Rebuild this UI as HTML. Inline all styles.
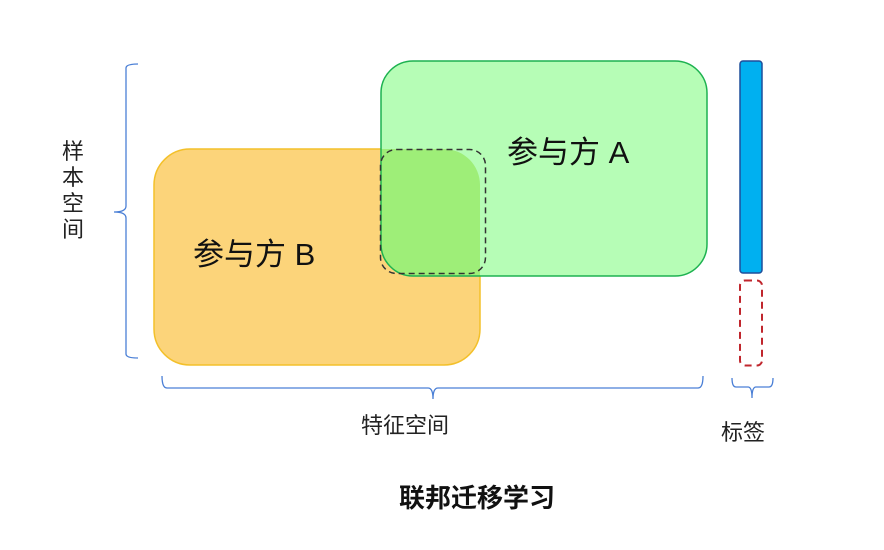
<!DOCTYPE html>
<html><head><meta charset="utf-8"><style>
html,body{margin:0;padding:0;background:#fff;width:884px;height:550px;overflow:hidden}
text{font-family:"Liberation Sans","Noto Sans CJK SC",sans-serif}
</style></head><body>
<svg width="884" height="550" viewBox="0 0 884 550" xmlns="http://www.w3.org/2000/svg">
<defs>
<clipPath id="g"><rect x="381" y="61" width="326" height="215" rx="32"/></clipPath>
</defs>
<rect x="154" y="149" width="326" height="216" rx="36" fill="#fcd47a" stroke="#f3c02a" stroke-width="1.5"/>
<rect x="381" y="61" width="326" height="215" rx="32" fill="#b6fdb6"/>
<rect x="154" y="149" width="326" height="216" rx="36" fill="#9eee78" clip-path="url(#g)"/>
<rect x="381" y="61" width="326" height="215" rx="32" fill="none" stroke="#1db250" stroke-width="1.5"/>
<rect x="380.5" y="149.5" width="105" height="124" rx="16" fill="none" stroke="#333" stroke-width="1.5" stroke-dasharray="6,4"/>
<text x="193" y="265" font-size="31" fill="#111">参与方 B</text>
<text x="507" y="163" font-size="31" fill="#111">参与方 A</text>
<rect x="740" y="61" width="22" height="212" rx="3" fill="#00b0f0" stroke="#1f4e9a" stroke-width="1.5"/>
<rect x="740" y="280.5" width="22" height="85" rx="5" fill="none" stroke="#c0262d" stroke-width="2" stroke-dasharray="7,5"/>
<g fill="none" stroke="#4a7fd6" stroke-width="1.3">
<path d="M138 64 Q126 64 126 68 L126 206 Q126 212 114 212 Q126 212 126 218 L126 354 Q126 358 138 358"/>
<path d="M162 376 Q162 388 167 388 L428 388 Q433 388 433 399 Q433 388 438 388 L698 388 Q703 388 703 376"/>
<path d="M732 378 Q732 387 736 387 L748 387 Q752 387 752 398 Q752 387 756 387 L769 387 Q773 387 773 378"/>
</g>
<g font-size="22" fill="#222">
<text x="73" y="159" text-anchor="middle">样</text>
<text x="73" y="185" text-anchor="middle">本</text>
<text x="73" y="211" text-anchor="middle">空</text>
<text x="73" y="237" text-anchor="middle">间</text>
<text x="405" y="433" text-anchor="middle">特征空间</text>
<text x="743" y="440" text-anchor="middle">标签</text>
</g>
<text x="477" y="507" font-size="26" font-weight="bold" text-anchor="middle" fill="#111">联邦迁移学习</text>
</svg>
</body></html>
